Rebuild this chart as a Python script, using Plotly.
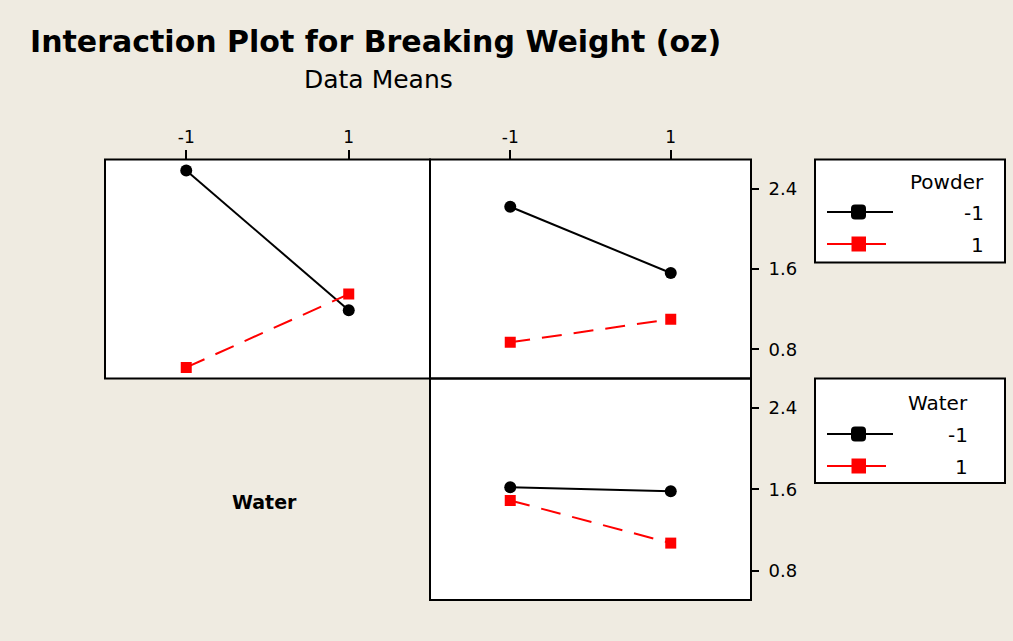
import plotly.graph_objects as go

# ---------------- data ----------------
levels = [-1, 1]
level_labels = ["-1", "1"]

# Panel 1: x = Water, lines = Powder
p1_powder_neg = [2.58, 1.19]
p1_powder_pos = [0.62, 1.35]
# Panel 2: x = third factor, lines = Powder
p2_powder_neg = [2.22, 1.56]
p2_powder_pos = [0.87, 1.10]
# Panel 3: x = third factor, lines = Water
p3_water_neg = [1.62, 1.58]
p3_water_pos = [1.49, 1.07]

y_ticks = [0.8, 1.6, 2.4]
y_tick_labels = ["0.8", "1.6", "2.4"]

W, H = 1013, 641
BG = "#EFEBE1"
FONT = "DejaVu Sans"

def px(x):
    return x / W

def py(y):
    return 1 - y / H

fig = go.Figure()

neg_style = dict(mode="lines+markers", line=dict(color="black", width=2),
                 marker=dict(symbol="circle", size=12, color="black"), showlegend=False)
pos_style = dict(mode="lines+markers", line=dict(color="#FF0000", width=2, dash="20px,12px"),
                 marker=dict(symbol="square", size=11, color="#FF0000"), showlegend=False)

fig.add_trace(go.Scatter(x=levels, y=p1_powder_neg, xaxis="x", yaxis="y", name="Powder -1", **neg_style))
fig.add_trace(go.Scatter(x=levels, y=p1_powder_pos, xaxis="x", yaxis="y", name="Powder 1", **pos_style))
fig.add_trace(go.Scatter(x=levels, y=p2_powder_neg, xaxis="x2", yaxis="y2", name="Powder -1", **neg_style))
fig.add_trace(go.Scatter(x=levels, y=p2_powder_pos, xaxis="x2", yaxis="y2", name="Powder 1", **pos_style))
fig.add_trace(go.Scatter(x=levels, y=p3_water_neg, xaxis="x3", yaxis="y3", name="Water -1", **neg_style))
fig.add_trace(go.Scatter(x=levels, y=p3_water_pos, xaxis="x3", yaxis="y3", name="Water 1", **pos_style))

xd1 = [px(105), px(430)]
xd2 = [px(430), px(751)]
yd_top = [py(378.5), py(159.5)]
yd_bot = [py(600), py(378.5)]
xr = [-2.0, 2.0]
yr = [0.51, 2.69]

ax_common = dict(showgrid=False, zeroline=False, showline=False, fixedrange=True)

top_x = dict(side="top", tickmode="array", tickvals=levels, ticktext=level_labels,
             ticks="outside", ticklen=9, tickwidth=2, tickcolor="black",
             tickfont=dict(family=FONT, size=17, color="black"), range=xr, **ax_common)
right_y = dict(side="right", tickmode="array", tickvals=y_ticks, ticktext=y_tick_labels,
               ticks="outside", ticklen=7, tickwidth=2, tickcolor="black", ticklabelstandoff=6,
               tickfont=dict(family=FONT, size=18, color="black"), range=yr, **ax_common)
plain_x = dict(showticklabels=False, ticks="", range=xr, **ax_common)
plain_y = dict(showticklabels=False, ticks="", range=yr, **ax_common)

fig.update_layout(
    width=W, height=H,
    margin=dict(l=0, r=0, t=0, b=0),
    paper_bgcolor=BG, plot_bgcolor="white",
    xaxis=dict(domain=xd1, anchor="y", **top_x),
    yaxis=dict(domain=yd_top, anchor="x", **plain_y),
    xaxis2=dict(domain=xd2, anchor="y2", **top_x),
    yaxis2=dict(domain=yd_top, anchor="x2", **right_y),
    xaxis3=dict(domain=xd2, anchor="y3", **plain_x),
    yaxis3=dict(domain=yd_bot, anchor="x3", **right_y),
    font=dict(family=FONT, color="black"),
)

annotations = [
    dict(text="<b>Interaction Plot for Breaking Weight (oz)</b>", xref="paper", yref="paper",
         x=px(28), y=py(41), xanchor="left", yanchor="middle", showarrow=False,
         font=dict(family=FONT, size=30, color="black")),
    dict(text="Data Means", xref="paper", yref="paper", x=px(378), y=py(79),
         xanchor="center", yanchor="middle", showarrow=False,
         font=dict(family=FONT, size=25, color="black")),
    dict(text="<b>Water</b>", xref="paper", yref="paper", x=px(264), y=py(502),
         xanchor="center", yanchor="middle", showarrow=False,
         font=dict(family=FONT, size=19, color="black")),
]

shapes = []
# panel frames
for xa, ya in [("x", "y"), ("x2", "y2"), ("x3", "y3")]:
    shapes.append(dict(type="rect", xref=xa + " domain", yref=ya + " domain",
                       x0=0, x1=1, y0=0, y1=1, line=dict(color="black", width=2),
                       fillcolor="rgba(0,0,0,0)", layer="above"))

def rounded_square(cx, cy, half, r):
    l, rt, t, b = cx - half, cx + half, cy - half, cy + half
    pts = [
        f"M {px(l + r)},{py(t)}", f"L {px(rt - r)},{py(t)}", f"Q {px(rt)},{py(t)} {px(rt)},{py(t + r)}",
        f"L {px(rt)},{py(b - r)}", f"Q {px(rt)},{py(b)} {px(rt - r)},{py(b)}",
        f"L {px(l + r)},{py(b)}", f"Q {px(l)},{py(b)} {px(l)},{py(b - r)}",
        f"L {px(l)},{py(t + r)}", f"Q {px(l)},{py(t)} {px(l + r)},{py(t)}", "Z",
    ]
    return " ".join(pts)

def legend_box(top, bottom, title, right, ys):
    shapes.append(dict(type="rect", xref="paper", yref="paper",
                       x0=px(815), x1=px(1005), y0=py(bottom), y1=py(top),
                       fillcolor="white", line=dict(color="black", width=2), layer="below"))
    annotations.append(dict(text=title, xref="paper", yref="paper", x=px(right), y=py(ys[0]),
                            xanchor="right", yanchor="middle", showarrow=False,
                            font=dict(family=FONT, size=20, color="black")))
    # black entry
    shapes.append(dict(type="line", xref="paper", yref="paper", x0=px(827), x1=px(893),
                       y0=py(ys[1]), y1=py(ys[1]), line=dict(color="black", width=2)))
    shapes.append(dict(type="path", xref="paper", yref="paper",
                       path=rounded_square(858.5, ys[1], 7.5, 4), fillcolor="black",
                       line=dict(color="black", width=0)))
    annotations.append(dict(text=level_labels[0], xref="paper", yref="paper", x=px(right),
                            y=py(ys[1] + 1), xanchor="right", yanchor="middle", showarrow=False,
                            font=dict(family=FONT, size=20, color="black")))
    # red entry
    shapes.append(dict(type="line", xref="paper", yref="paper", x0=px(827), x1=px(886),
                       y0=py(ys[2]), y1=py(ys[2]), line=dict(color="#FF0000", width=2)))
    shapes.append(dict(type="rect", xref="paper", yref="paper", x0=px(851.5), x1=px(866),
                       y0=py(ys[2] + 7.5), y1=py(ys[2] - 7.5), fillcolor="#FF0000",
                       line=dict(color="#FF0000", width=0)))
    annotations.append(dict(text=level_labels[1], xref="paper", yref="paper", x=px(right),
                            y=py(ys[2] + 1), xanchor="right", yanchor="middle", showarrow=False,
                            font=dict(family=FONT, size=20, color="black")))

legend_box(159.5, 262.5, "Powder", 986, [182, 212, 244])
legend_box(378.5, 483, "Water", 970, [403, 434, 466])

fig.update_layout(annotations=annotations, shapes=shapes)

fig.write_html("out.html")
